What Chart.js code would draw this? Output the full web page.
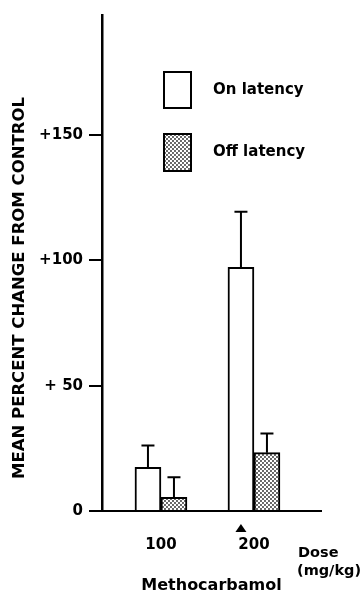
<!DOCTYPE html>
<html>
<head>
<meta charset="utf-8">
<script src="https://cdn.jsdelivr.net/npm/chart.js@4.4.1/dist/chart.umd.min.js"></script>
<style>
  body { margin: 0; background: #fff; }
  canvas { display: block; }
</style>
</head>
<body>
<canvas id="myChart" width="364" height="595"></canvas>
<script>
const doses = [100, 200];
const onLatency = [17.4, 97.3];
const onLatencyErr = [8.7, 22.2];
const offLatency = [5.5, 23.3];
const offLatencyErr = [8.0, 7.6];
const yTickValues = [0, 50, 100, 150];
const yTickLabels = ["0", "+ 50", "+100", "+150"];
const seriesNames = ["On latency", "Off latency"];

const FONT = "'DejaVu Sans', 'Liberation Sans', Arial, sans-serif";

// dotted fill for the "off" bars
function makeStipple() {
  const c = document.createElement("canvas");
  c.width = 4;
  c.height = 4;
  const g = c.getContext("2d");
  g.fillStyle = "#fff";
  g.fillRect(0, 0, 4, 4);
  g.fillStyle = "#222";
  g.beginPath();
  g.arc(1, 1, 0.9, 0, Math.PI * 2);
  g.arc(3, 3, 0.9, 0, Math.PI * 2);
  g.fill();
  return g.createPattern(c, "repeat");
}
const stipple = makeStipple();

const errors = [onLatencyErr, offLatencyErr];

const errorBars = {
  id: "errorBars",
  afterDatasetsDraw(chart) {
    const ctx = chart.ctx;
    const y = chart.scales.y;
    ctx.save();
    ctx.strokeStyle = "#000";
    ctx.lineWidth = 2;
    chart.data.datasets.forEach((ds, i) => {
      chart.getDatasetMeta(i).data.forEach((bar, j) => {
        const top = y.getPixelForValue(ds.data[j].y + errors[i][j]);
        ctx.beginPath();
        ctx.moveTo(bar.x, bar.y);
        ctx.lineTo(bar.x, top);
        ctx.moveTo(bar.x - 6.5, top);
        ctx.lineTo(bar.x + 6.5, top);
        ctx.stroke();
      });
    });
    ctx.restore();
  },
};

const extras = {
  id: "extras",
  afterDraw(chart) {
    const ctx = chart.ctx;
    ctx.save();
    ctx.fillStyle = "#000";
    ctx.strokeStyle = "#000";

    // y axis title
    ctx.save();
    ctx.font = "bold 16.5px " + FONT;
    ctx.textAlign = "center";
    ctx.textBaseline = "middle";
    ctx.translate(20, 288);
    ctx.rotate(-Math.PI / 2);
    ctx.fillText("MEAN PERCENT CHANGE FROM CONTROL", 0, 0);
    ctx.restore();

    // legend
    ctx.lineWidth = 2;
    ctx.font = "bold 15px " + FONT;
    ctx.textAlign = "left";
    ctx.textBaseline = "middle";
    const boxes = [[72, 36], [134, 37]];
    chart.data.datasets.forEach((ds, i) => {
      const [by, bh] = boxes[i];
      ctx.fillStyle = ds.backgroundColor;
      ctx.fillRect(164, by, 27, bh);
      ctx.strokeRect(164, by, 27, bh);
      ctx.fillStyle = "#000";
      ctx.fillText(ds.label, 213, by + bh / 2);
    });

    // dose unit label
    ctx.font = "bold 14.5px " + FONT;
    ctx.fillText("Dose", 298, 553);
    ctx.fillText("(mg/kg)", 297, 571);

    // marker under the 200 mg/kg on-latency bar
    const bx = chart.getDatasetMeta(0).data[1].x;
    ctx.beginPath();
    ctx.moveTo(bx, 524);
    ctx.lineTo(bx + 5.5, 532);
    ctx.lineTo(bx - 5.5, 532);
    ctx.closePath();
    ctx.fill();
    ctx.restore();
  },
};

const data = {
  datasets: [
    {
      label: seriesNames[0],
      data: doses.map((d, i) => ({ x: d, y: onLatency[i] })),
      backgroundColor: "#fff",
      borderColor: "#000",
      borderWidth: 2,
    },
    {
      label: seriesNames[1],
      data: doses.map((d, i) => ({ x: d, y: offLatency[i] })),
      backgroundColor: stipple,
      borderColor: "#000",
      borderWidth: 2,
    },
  ],
};

const tickFont = { family: FONT, size: 15, weight: "bold" };

const config = {
  type: "bar",
  data: data,
  options: {
    responsive: false,
    animation: false,
    barThickness: 26,
    layout: { padding: { top: 12, right: 43, left: 0, bottom: 0 } },
    plugins: {
      legend: { display: false },
      tooltip: { enabled: false },
    },
    scales: {
      x: {
        type: "linear",
        min: 36.6,
        max: 272.1,
        offset: false,
        grid: { display: false, drawTicks: false },
        border: { display: true, color: "#000", width: 2 },
        afterBuildTicks: (axis) => {
          axis.ticks = doses.map((v) => ({ value: v }));
        },
        afterFit: (scale) => {
          scale.height = 84;
        },
        ticks: {
          color: "#000",
          font: tickFont,
          padding: 25,
          callback: (v) => String(v),
        },
        title: {
          display: true,
          text: "Methocarbamol",
          color: "#000",
          font: { family: FONT, size: 16, weight: "bold" },
          padding: { top: 0, bottom: 0 },
        },
      },
      y: {
        min: 0,
        max: 198,
        afterBuildTicks: (axis) => {
          axis.ticks = yTickValues.map((v) => ({ value: v }));
        },
        afterFit: (scale) => {
          scale.width = 102;
        },
        ticks: {
          color: "#000",
          font: tickFont,
          padding: 6,
          callback: (v) => yTickLabels[yTickValues.indexOf(v)],
        },
        grid: {
          drawOnChartArea: false,
          drawTicks: true,
          tickLength: 13,
          color: "#000",
          lineWidth: 2,
        },
        border: { display: true, color: "#000", width: 2.5 },
      },
    },
  },
  plugins: [errorBars, extras],
};

const myChart = new Chart(document.querySelector("#myChart"), config);
</script>
</body>
</html>
